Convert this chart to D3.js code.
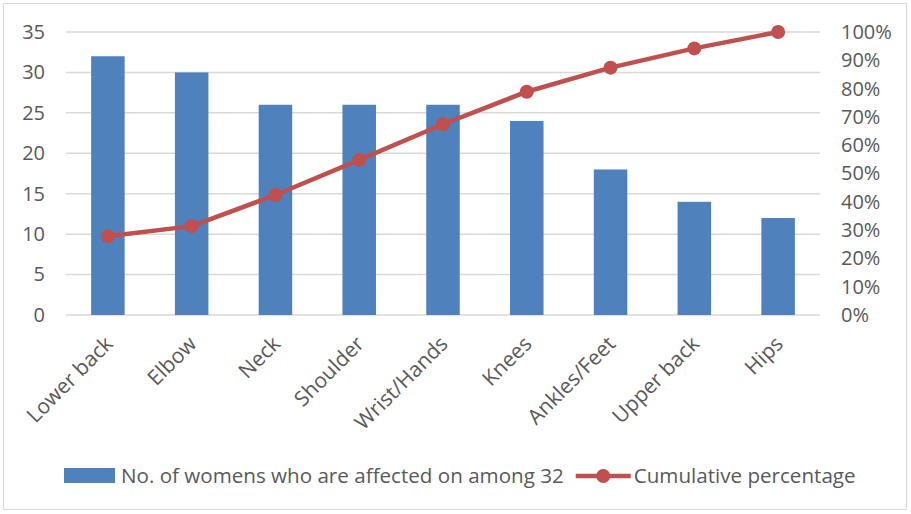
<!DOCTYPE html>
<html>
<head>
<meta charset="utf-8">
<script src="https://cdn.jsdelivr.net/npm/d3@7/dist/d3.min.js"></script>
<style>
  html, body { margin: 0; padding: 0; background: #fff; }
  svg text { font-family: "Open Sans", Lato, sans-serif; fill: #595959; }
</style>
</head>
<body>
<svg id="chart" width="911" height="514"></svg>
<script>
// Body regions and counts of affected women (out of 32), with the cumulative share
const categories = ["Lower back", "Elbow", "Neck", "Shoulder", "Wrist/Hands", "Knees", "Ankles/Feet", "Upper back", "Hips"];
const affected = [32, 30, 26, 26, 26, 24, 18, 14, 12];
const cumulativePct = [27.8, 31.4, 42.4, 54.8, 67.4, 78.9, 87.4, 94.2, 100];
const leftTicks = [0, 5, 10, 15, 20, 25, 30, 35];
const rightTicks = [0, 10, 20, 30, 40, 50, 60, 70, 80, 90, 100];
const barLabel = "No. of womens who are affected on among 32";
const lineLabel = "Cumulative percentage";

const svg = d3.select("#chart");
const W = 911, H = 514;
const plot = { left: 66, right: 820, top: 32, bottom: 315 };
const fontSize = "20px";
const legendFont = "20.6px";

// outer chart frame
svg.append("rect")
  .attr("x", 3.5).attr("y", 3.5)
  .attr("width", W - 8).attr("height", H - 8)
  .attr("fill", "#fff").attr("stroke", "#d9d9d9").attr("stroke-width", 1);

const x = d3.scaleBand().domain(categories).range([plot.left, plot.right]).paddingInner(0.6).paddingOuter(0.3);
const yL = d3.scaleLinear().domain([0, 35]).range([plot.bottom, plot.top]);
const yR = d3.scaleLinear().domain([0, 100]).range([plot.bottom, plot.top]);

// horizontal gridlines
svg.append("g")
  .selectAll("line").data(leftTicks).join("line")
  .attr("x1", plot.left).attr("x2", plot.right)
  .attr("y1", d => yL(d)).attr("y2", d => yL(d))
  .attr("stroke", "#d9d9d9").attr("stroke-width", 1.5);

// left axis
const axL = svg.append("g").attr("transform", `translate(${plot.left},0)`)
  .call(d3.axisLeft(yL).tickValues(leftTicks).tickSize(0).tickPadding(21));
axL.select(".domain").remove();
axL.selectAll("text").style("font-size", fontSize).style("font-family", "'Open Sans', sans-serif").attr("fill", "#595959");

// right axis
const axR = svg.append("g").attr("transform", `translate(${plot.right},0)`)
  .call(d3.axisRight(yR).tickValues(rightTicks).tickSize(0).tickPadding(21).tickFormat(d => d + "%"));
axR.select(".domain").remove();
axR.selectAll("text").style("font-size", fontSize).style("font-family", "'Open Sans', sans-serif").attr("fill", "#595959");

// bars
svg.append("g")
  .selectAll("rect").data(affected).join("rect")
  .attr("x", (d, i) => x(categories[i]))
  .attr("y", d => yL(d))
  .attr("width", x.bandwidth())
  .attr("height", d => yL(0) - yL(d))
  .attr("fill", "#4f81bd");

// category labels, rotated
svg.append("g")
  .selectAll("text").data(categories).join("text")
  .attr("text-anchor", "end")
  .attr("transform", d => `translate(${x(d) + x.bandwidth() / 2 + 1},${plot.bottom + 25}) rotate(-45)`)
  .attr("dy", "0.35em")
  .style("font-size", "21px")
  .text(d => d);

// cumulative line
const cx = i => x(categories[i]) + x.bandwidth() / 2;
const line = d3.line().x((d, i) => cx(i)).y(d => yR(d));
svg.append("path")
  .datum(cumulativePct)
  .attr("d", line)
  .attr("fill", "none").attr("stroke", "#c0504d").attr("stroke-width", 4.5)
  .attr("stroke-linejoin", "round");
svg.append("g")
  .selectAll("circle").data(cumulativePct).join("circle")
  .attr("cx", (d, i) => cx(i)).attr("cy", d => yR(d)).attr("r", 7)
  .attr("fill", "#c0504d");

// legend: swatch + label, then line key + label, laid out from text widths
const lg = svg.append("g");
const ly = 476;
lg.append("rect").attr("x", 64).attr("y", ly - 8).attr("width", 51).attr("height", 15).attr("fill", "#4f81bd");
const t1 = lg.append("text").attr("x", 121).attr("y", ly).attr("dy", "0.35em").style("font-size", legendFont).text(barLabel);
const end1 = 121 + t1.node().getComputedTextLength();
const lx = end1 + 12;
lg.append("line").attr("x1", lx).attr("x2", lx + 55).attr("y1", ly).attr("y2", ly)
  .attr("stroke", "#c0504d").attr("stroke-width", 4.5);
lg.append("circle").attr("cx", lx + 27.5).attr("cy", ly).attr("r", 7).attr("fill", "#c0504d");
lg.append("text").attr("x", lx + 58).attr("y", ly).attr("dy", "0.35em").style("font-size", legendFont).text(lineLabel);
</script>
</body>
</html>
